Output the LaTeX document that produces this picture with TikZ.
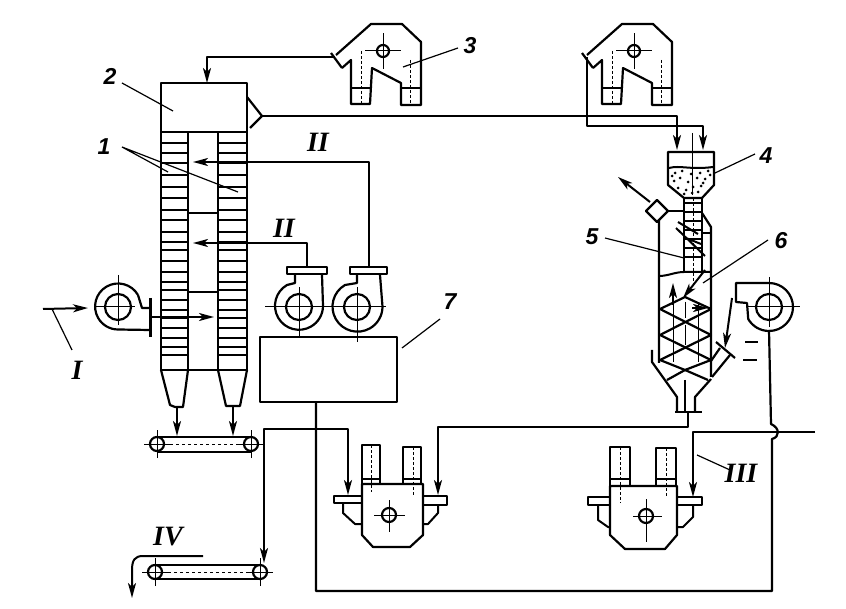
\documentclass[tikz,border=0pt]{standalone}
\usepackage{fontspec}
\setmainfont{Liberation Sans}
\newfontfamily\romanfont{Liberation Serif}
\usetikzlibrary{positioning, arrows.meta, calc}
\tikzset{
  wall/.style={line width=2.2pt, line join=round},
  pipe/.style={line width=2pt, line join=round},
  leader/.style={line width=1.2pt},
  axis/.style={line width=1pt},
  arrow/.style={pipe, -{Stealth[length=15pt, width=8pt, inset=4pt]}},
  num/.style={font=\fontsize{23}{23}\selectfont\bfseries\itshape},
  rom/.style={font=\fontsize{28}{28}\selectfont\romanfont\bfseries\itshape},
  pics/hub/.style n args={2}{code={
    \draw[wall] (0,0) circle[radius=#1pt];
    \draw[axis] (-#2,0) -- (#2,0) (0,-#2) -- (0,#2);
  }},
  pics/feeder/.style={code={
    \draw[wall] (-47,-4) -- (-12,27) -- (19,27) -- (38,9) -- (38,-54) -- (18,-54) -- (18,-32) -- (-11,-17)
      -- (-13,-53) -- (-32,-53) -- (-32,-9) -- (-41,-17);
    \draw[wall] (-52,-2) -- (-41,-17);
    \draw[pipe] (-32,-37) -- (-13,-37) (18,-37) -- (38,-37);
    \draw[axis, densely dashed] (-22,0) -- (-22,-52) (27,-9) -- (27,-52);
    \pic {hub={6}{18}};
  }},
  pics/pulley/.style={code={
    \draw[wall] (0,0) circle[radius=7pt];
    \draw[axis] (-13,0) -- (13,0) (0,-14) -- (0,14);
  }},
}

\begin{document}
\begin{tikzpicture}[x=1pt, y=1pt]
  \useasboundingbox (0,0) rectangle (846,-609);

  % column with tubes
  \draw[wall] (161,-370) -- (161,-83) -- (247,-83) -- (247,-370);
  \draw[wall] (161,-132) -- (247,-132);
  \draw[wall] (188,-132) -- (188,-370) (218,-132) -- (218,-370);
  \draw[wall] (188,-213) -- (218,-213) (188,-292) -- (218,-292) (161,-370) -- (247,-370);
  \foreach \yy in {143,153,163,175,187,198,210,220,232,242,250,261,272,282,290,300,310,318,328,338,347,355} {
    \draw[pipe] (161,-\yy) -- (188,-\yy) (218,-\yy) -- (247,-\yy);
  }
  \draw[wall] (161,-370) -- (170,-405) -- (175,-407) -- (183,-407) -- (188,-370);
  \draw[wall] (218,-370) -- (226,-406) -- (240,-406) -- (247,-370);
  \draw[wall] (247,-97) -- (262,-116) -- (250,-128);

  % air fans
  \draw[wall] (138,-295) arc[start angle=30, end angle=270, radius=23pt] -- (150,-330);
  \draw[wall] (138,-295) -- (142,-308) -- (150,-308);
  \draw[line width=3pt] (150,-298) -- (150,-337);
  \pic at (118,-307) {hub={13}{0}};
  \draw[axis] (95,-307) -- (135,-307) (118,-275) -- (118,-325);
  \draw[wall] (295,-275) -- (295,-283) -- (287,-285) arc[start angle=120, end angle=360, radius=24pt] -- (322,-275);
  \draw[wall] (287,-267) rectangle (327,-274);
  \pic at (299,-307) {hub={13}{0}};
  \draw[axis] (265,-307) -- (333,-307) (299,-287) -- (299,-337);
  \draw[wall] (357,-275) -- (357,-283) -- (345,-285) arc[start angle=120, end angle=360, radius=25pt] -- (380,-275);
  \draw[wall] (350,-267) rectangle (387,-274);
  \pic at (357,-307) {hub={13}{0}};
  \draw[axis] (330,-307) -- (386,-307) (357,-287) -- (357,-342);
  \draw[wall] (736,-283) -- (769,-283) arc[start angle=90, end angle=-150, radius=24pt] -- (747,-303) -- (736,-302) -- cycle;
  \pic at (769,-307) {hub={13}{0}};
  \draw[axis] (747,-307) -- (800,-307) (769,-277) -- (769,-327);

  % feeders
  \pic (feedA) at (383,-51) {feeder};
  \pic (feedB) at (634,-51) {feeder};

  % box
  \node (box7) [wall, draw, minimum width=137pt, minimum height=65pt, inner sep=0pt] at (328.5,-369.5) {};

  % bunker
  \draw[wall] (668,-152) -- (714,-152) -- (714,-185) -- (702,-198) -- (684,-198) -- (668,-185) -- cycle;
  \draw[pipe] (669,-168) .. controls (680,-165) and (690,-170) .. (713,-167);
  \draw[axis] (692,-133) -- (692,-195);
  \foreach \px/\py in {675/173,682/171,691/174,700/173,708/171,674/181,680/178,688/182,697/178,705/179,
    678/188,686/190,693/187,701/186,710/175,684/194,692/193,698/192,672/176,703/183} {
    \fill (\px,-\py) circle[radius=1.5pt];
  }

  % cyclone
  \draw[wall] (684,-198) -- (684,-272) (702,-198) -- (702,-272);
  \foreach \yy in {203,212,221,230,239,248,257} {
    \draw[leader] (684,-\yy) -- (702,-\yy);
  }
  \draw[axis, densely dashed] (693,-198) -- (693,-287);
  \draw[wall] (659,-220) -- (659,-363) (702,-213) -- (711,-227) -- (711,-377);
  \draw[pipe] (702,-233) -- (711,-233);
  \draw[pipe] (678,-222) -- (698,-234) (676,-228) -- (705,-256) (686,-238) -- (701,-244);
  \draw[pipe] (659,-276) .. controls (668,-276) and (675,-272) .. (684,-272) -- (711,-272);
  \draw[wall] (657,-200) -- (668,-211) -- (657,-222) -- (646,-211) -- cycle;
  \draw[pipe] (668,-211) -- (684,-211);
  \draw[wall] (660,-309) -- (685,-297) -- (711,-309);
  \draw[wall] (711,-309) -- (660,-335) -- (711,-360) -- (685,-370) -- (667,-380);
  \draw[wall] (660,-309) -- (711,-335) -- (660,-360) -- (685,-370) -- (708,-380);
  \draw[axis] (673,-303) -- (673,-362) (698,-303) -- (698,-362);
  \draw[axis] (685,-302) -- (685,-318) (685,-325) -- (685,-345);
  \draw[pipe] (685,-380) -- (685,-412);
  \draw[wall] (652,-350) -- (652,-362) -- (677,-397) -- (677,-412) (711,-379) -- (695,-397) -- (695,-412);
  \draw[wall] (675,-412) -- (702,-412);
  \draw[wall] (711,-361) -- (720,-348) (712,-377) -- (730,-355);
  \draw[wall] (716,-342) -- (735,-358);
  \draw[pipe] (743,-360) -- (757,-360) (745,-342) -- (758,-342);
  \draw[arrow] (732,-298) -- (725,-348);
  \draw[arrow] (673,-305) -- (673,-283);
  \draw[arrow] (692,-308) -- (708,-308);
  \draw[arrow] (705,-270) -- (683,-298);
  \draw[arrow] (650,-202) -- (618,-177);

  % lower vessels
  \draw[wall] (362,-484) -- (423,-484) -- (423,-535) -- (410,-547) -- (373,-547) -- (362,-535) -- cycle;
  \draw[wall] (362,-484) -- (362,-445) -- (380,-445) -- (380,-484) (403,-484) -- (403,-447) -- (421,-447) -- (421,-484);
  \draw[pipe] (362,-479) -- (380,-479) (403,-479) -- (421,-479);
  \draw[axis, densely dashed] (371,-445) -- (371,-492) (413,-447) -- (413,-495);
  \draw[wall] (334,-496) rectangle (362,-503) (423,-496) rectangle (447,-505);
  \draw[pipe] (343,-503) -- (343,-513) -- (355,-524) -- (362,-524) (438,-505) -- (438,-513) -- (428,-524) -- (423,-524);
  \pic at (389,-515) {hub={7}{0}};
  \draw[axis] (374,-515) -- (405,-515) (389,-500) -- (389,-532);

  \draw[wall] (610,-486) -- (677,-486) -- (677,-535) -- (665,-549) -- (625,-549) -- (610,-535) -- cycle;
  \draw[wall] (610,-486) -- (610,-447) -- (630,-447) -- (630,-486) (656,-486) -- (656,-448) -- (676,-448) -- (676,-486);
  \draw[pipe] (610,-479) -- (630,-479) (656,-479) -- (676,-479);
  \draw[axis, densely dashed] (620,-447) -- (620,-503) (666,-448) -- (666,-497);
  \draw[wall] (588,-497) rectangle (610,-505) (677,-497) rectangle (702,-505);
  \draw[pipe] (598,-505) -- (598,-520) -- (608,-527) -- (610,-527) (693,-505) -- (693,-517) -- (683,-527) -- (677,-527);
  \pic at (646,-516) {hub={7}{0}};
  \draw[axis] (633,-516) -- (662,-516) (646,-499) -- (646,-542);

  % conveyors
  \draw[wall] (157,-437) -- (251,-437) (157,-452) -- (251,-452);
  \draw[axis, dashed] (164,-444) -- (244,-444);
  \pic (beltA) at (157,-444) {pulley};
  \pic (beltB) at (251,-444) {pulley};
  \draw[wall] (155,-565) -- (260,-565) (155,-579) -- (260,-579);
  \draw[axis, dashed] (162,-572) -- (253,-572);
  \pic (beltC) at (155,-572) {pulley};
  \pic (beltD) at (260,-572) {pulley};

  % pipes
  \coordinate (inlet) at (207,-83);
  \coordinate (gasout) at (262,-116);
  \coordinate (binA) at (677,-150);
  \coordinate (binB) at (703,-150);
  \draw[arrow] (333,-57) -- (207,-57) -- (inlet);
  \draw[arrow] (gasout) -- (677,-116) -- (binA);
  \draw[arrow] (587,-57) -- (587,-126) -- (703,-126) -- (binB);
  \draw[arrow] (369,-267) -- (369,-162) -- (193,-162);
  \draw[arrow] (307,-267) -- (307,-243) -- (193,-243);
  \draw[arrow] (150,-317) -- (214,-317);
  \draw[arrow] (177,-407) -- (177,-436);
  \draw[arrow] (233,-406) -- (233,-436);
  \draw[arrow] (264,-444) -- (264,-429) -- (348,-429) -- (348,-495);
  \draw[arrow] (264,-429) -- (264,-563);
  \draw[arrow] (688,-412) -- (688,-427) -- (438,-427) -- (438,-495);
  \draw[wall] (box7.south -| 316,0) -- (316,-591) -- (772,-591) -- (772,-439)
    .. controls (780,-437) and (780,-428) .. (771,-424) -- (769,-330);
  \draw[arrow] (815,-432) -- (693,-432) -- (693,-497);
  \draw[arrow] (43,-309) -- (88,-308);
  \draw[arrow] (203,-556) -- (143,-556) .. controls (135,-556) and (132,-560) .. (132,-570) -- (132,-598);

  % labels
  \node (lab1) [num] at (104,-147) {1};
  \node (lab2) [num] at (110,-76) {2};
  \node (lab3) [num] at (470,-46) {3};
  \node (lab4) [num] at (766,-156) {4};
  \node (lab5) [num] at (592,-237) {5};
  \node (lab6) [num] at (781,-241) {6};
  \node (lab7) [num] at (450,-302) {7};
  \node (romI) [rom] at (77,-370) {I};
  \node (romIIa) [rom] at (318,-142) {II};
  \node (romIIb) [rom] at (284,-228) {II};
  \node (romIII) [rom] at (741,-473) {III};
  \node (romIV) [rom] at (168,-537) {IV};

  \draw[leader] (122,-147) -- (238,-192) (122,-147) -- (168,-172);
  \draw[leader] (122,-83) -- (173,-111);
  \draw[leader] (458,-48) -- (403,-67);
  \draw[leader] (755,-154) -- (715,-173);
  \draw[leader] (605,-238) -- (684,-258);
  \draw[leader] (768,-240) -- (703,-283);
  \draw[leader] (402,-348) -- (440,-319);
  \draw[leader] (52,-309) -- (72,-350);
  \draw[leader] (697,-455) -- (730,-470);
\end{tikzpicture}
\end{document}
